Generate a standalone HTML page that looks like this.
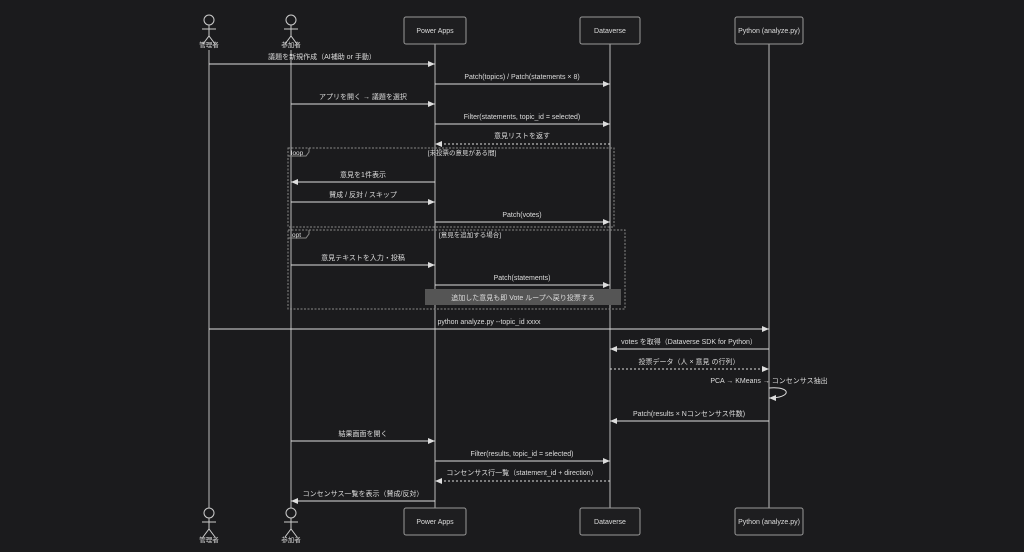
<!DOCTYPE html>
<html><head><meta charset="utf-8"><style>
html,body{margin:0;padding:0;background:#1b1b1d;}
svg{display:block;font-family:"Liberation Sans","Noto Sans CJK JP",sans-serif;}
</style></head><body>
<svg width="1024" height="552" viewBox="0 0 1024 552">
<defs>
<marker id="a" markerWidth="8" markerHeight="8" refX="7" refY="4" orient="auto" markerUnits="userSpaceOnUse"><path d="M0,1 L7,4 L0,7 Z" fill="#ddd"/></marker>
</defs>
<rect width="1024" height="552" fill="#1b1b1d"/>
<g stroke="#bbb" stroke-width="1" fill="none">
<line x1="209" y1="50" x2="209" y2="508"/>
<line x1="291" y1="50" x2="291" y2="508"/>
<line x1="435" y1="44" x2="435" y2="508"/>
<line x1="610" y1="44" x2="610" y2="508"/>
<line x1="769" y1="44" x2="769" y2="508"/>
</g>
<g fill="#1e1e20" stroke="#999">
<rect x="404" y="17" width="62" height="27" rx="2"/>
<rect x="580" y="17" width="60" height="27" rx="2"/>
<rect x="735" y="17" width="68" height="27" rx="2"/>
<rect x="404" y="508" width="62" height="27" rx="2"/>
<rect x="580" y="508" width="60" height="27" rx="2"/>
<rect x="735" y="508" width="68" height="27" rx="2"/>
</g>
<g fill="#ddd" font-size="7" text-anchor="middle">
<text x="435" y="33">Power Apps</text><text x="610" y="33">Dataverse</text><text x="769" y="33">Python (analyze.py)</text>
<text x="435" y="524">Power Apps</text><text x="610" y="524">Dataverse</text><text x="769" y="524">Python (analyze.py)</text>
</g>
<g stroke="#ccc" fill="none" stroke-width="1">
<circle cx="209" cy="20" r="5"/><line x1="209" y1="25" x2="209" y2="36"/><line x1="202" y1="29" x2="216" y2="29"/><path d="M203,44 L209,36 L215,44"/>
<circle cx="291" cy="20" r="5"/><line x1="291" y1="25" x2="291" y2="36"/><line x1="284" y1="29" x2="298" y2="29"/><path d="M285,44 L291,36 L297,44"/>
<circle cx="209" cy="513" r="5"/><line x1="209" y1="518" x2="209" y2="529"/><line x1="202" y1="522" x2="216" y2="522"/><path d="M203,537 L209,529 L215,537"/>
<circle cx="291" cy="513" r="5"/><line x1="291" y1="518" x2="291" y2="529"/><line x1="284" y1="522" x2="298" y2="522"/><path d="M285,537 L291,529 L297,537"/>
</g>
<g fill="#ddd" font-size="6.5" text-anchor="middle">
<text x="209" y="47">管理者</text><text x="291" y="47">参加者</text>
<text x="209" y="542">管理者</text><text x="291" y="542">参加者</text>
</g>
<!-- frames -->
<g stroke="#888" stroke-dasharray="2,1.5" fill="none">
<rect x="288" y="148" width="326" height="79"/>
<rect x="288" y="230" width="337" height="79"/>
</g>
<g stroke="#888" fill="none"><path d="M288,156 H306 L309,152 V148"/><path d="M288,238 H306 L309,234 V230"/></g>
<g fill="#ddd" font-size="6.5">
<text x="291" y="155">loop</text><text x="292" y="237">opt</text>
<text x="462" y="155" text-anchor="middle">[未投票の意見がある間]</text>
<text x="470" y="237" text-anchor="middle">[意見を追加する場合]</text>
</g>
<rect x="425" y="289" width="196" height="16" fill="#555"/>
<text x="523" y="300" fill="#ddd" font-size="7" text-anchor="middle">追加した意見も即 Vote ループへ戻り投票する</text>
<!-- arrows -->
<g stroke="#ddd" stroke-width="1" fill="none" marker-end="url(#a)">
<line x1="209" y1="64" x2="435" y2="64"/>
<line x1="435" y1="84" x2="610" y2="84"/>
<line x1="291" y1="104" x2="435" y2="104"/>
<line x1="435" y1="124" x2="610" y2="124"/>
<line x1="610" y1="144" x2="435" y2="144" stroke-dasharray="2,2"/>
<line x1="435" y1="182" x2="291" y2="182"/>
<line x1="291" y1="202" x2="435" y2="202"/>
<line x1="435" y1="222" x2="610" y2="222"/>
<line x1="291" y1="265" x2="435" y2="265"/>
<line x1="435" y1="285" x2="610" y2="285"/>
<line x1="209" y1="329" x2="769" y2="329"/>
<line x1="769" y1="349" x2="610" y2="349"/>
<line x1="610" y1="369" x2="769" y2="369" stroke-dasharray="2,2"/>
<path d="M769,388 C792,386 792,398 769,398"/>
<line x1="769" y1="421" x2="610" y2="421"/>
<line x1="291" y1="441" x2="435" y2="441"/>
<line x1="435" y1="461" x2="610" y2="461"/>
<line x1="610" y1="481" x2="435" y2="481" stroke-dasharray="2,2"/>
<line x1="435" y1="501" x2="291" y2="501"/>
</g>
<g fill="#ddd" font-size="7" text-anchor="middle">
<text x="322" y="59">議題を新規作成（AI補助 or 手動）</text>
<text x="522" y="79">Patch(topics) / Patch(statements × 8)</text>
<text x="363" y="99">アプリを開く → 議題を選択</text>
<text x="522" y="119">Filter(statements, topic_id = selected)</text>
<text x="522" y="138">意見リストを返す</text>
<text x="363" y="177">意見を1件表示</text>
<text x="363" y="197">賛成 / 反対 / スキップ</text>
<text x="522" y="217">Patch(votes)</text>
<text x="363" y="260">意見テキストを入力・投稿</text>
<text x="522" y="280">Patch(statements)</text>
<text x="489" y="324">python analyze.py --topic_id xxxx</text>
<text x="689" y="344">votes を取得（Dataverse SDK for Python）</text>
<text x="689" y="364">投票データ（人 × 意見 の行列）</text>
<text x="769" y="383">PCA → KMeans → コンセンサス抽出</text>
<text x="689" y="416">Patch(results × Nコンセンサス件数)</text>
<text x="363" y="436">結果画面を開く</text>
<text x="522" y="456">Filter(results, topic_id = selected)</text>
<text x="522" y="475">コンセンサス行一覧（statement_id + direction）</text>
<text x="363" y="496">コンセンサス一覧を表示（賛成/反対）</text>
</g>
</svg>
</body></html>
